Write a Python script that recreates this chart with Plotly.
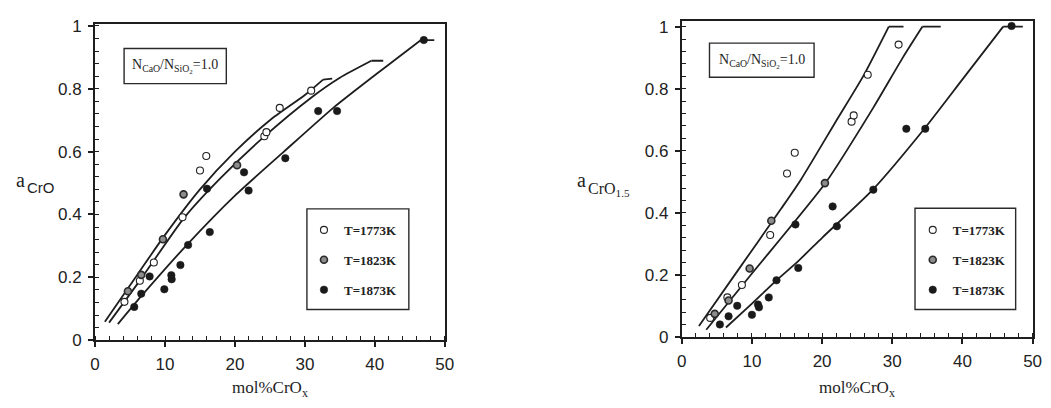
import plotly.graph_objects as go

W, H = 1051, 408

# ---------------- Left panel: a_CrO ----------------
# experimental points
L_x1773 = [4.2, 6.4, 8.4, 12.5, 15.0, 15.9, 24.2, 24.5, 26.4, 30.9]
L_y1773 = [0.122, 0.189, 0.247, 0.391, 0.540, 0.586, 0.649, 0.662, 0.739, 0.794]
L_x1823 = [4.7, 6.6, 9.7, 12.65, 20.3]
L_y1823 = [0.156, 0.208, 0.321, 0.464, 0.557]
L_x1873 = [5.6, 6.6, 7.8, 9.9, 10.9, 10.95, 12.2, 13.3, 16.0, 16.4, 21.3, 21.95, 27.2, 31.9, 34.6, 47.0]
L_y1873 = [0.106, 0.148, 0.203, 0.162, 0.207, 0.194, 0.239, 0.303, 0.482, 0.344, 0.534, 0.476, 0.579, 0.729, 0.729, 0.955]
# model curves (last point = end of the flat plateau after the kink)
L_cx1773 = [1.4, 5.0, 10.0, 15.0, 20.0, 25.0, 30.0, 32.6, 33.9]
L_cy1773 = [0.059, 0.175, 0.335, 0.480, 0.600, 0.700, 0.780, 0.829, 0.832]
L_cx1823 = [2.0, 6.6, 12.75, 17.9, 24.3, 30.8, 35.0, 39.5, 41.2]
L_cy1823 = [0.056, 0.196, 0.390, 0.515, 0.650, 0.770, 0.835, 0.889, 0.889]
L_cx1873 = [3.25, 6.6, 13.2, 20.0, 27.0, 34.1, 40.7, 46.6, 48.5]
L_cy1873 = [0.051, 0.140, 0.305, 0.460, 0.600, 0.740, 0.855, 0.955, 0.955]

# ---------------- Right panel: a_CrO1.5 ----------------
R_x1773 = [4.05, 6.5, 8.57, 12.6, 15.0, 16.1, 24.2, 24.5, 26.5, 30.9]
R_y1773 = [0.062, 0.128, 0.168, 0.329, 0.527, 0.594, 0.694, 0.714, 0.845, 0.942]
R_x1823 = [4.7, 6.67, 9.67, 12.76, 20.4]
R_y1823 = [0.075, 0.118, 0.221, 0.375, 0.496]
R_x1873 = [5.43, 6.67, 7.9, 10.0, 10.86, 11.0, 12.4, 13.5, 16.2, 16.6, 21.5, 22.1, 27.3, 32.0, 34.7, 47.0]
R_y1873 = [0.041, 0.067, 0.101, 0.072, 0.105, 0.096, 0.128, 0.183, 0.363, 0.223, 0.421, 0.357, 0.475, 0.671, 0.671, 1.002]
R_cx1773 = [2.45, 8.0, 14.2, 17.0, 22.0, 25.9, 29.5, 31.6]
R_cy1773 = [0.036, 0.215, 0.415, 0.508, 0.696, 0.842, 1.0, 1.0]
R_cx1823 = [3.49, 10.0, 20.5, 27.3, 31.5, 34.3, 36.9]
R_cy1823 = [0.024, 0.205, 0.497, 0.739, 0.900, 1.0, 1.0]
R_cx1873 = [6.3, 10.0, 13.5, 16.6, 20.0, 27.3, 34.6, 40.0, 45.8, 48.6]
R_cy1873 = [0.031, 0.108, 0.183, 0.245, 0.320, 0.477, 0.672, 0.830, 1.0, 1.0]

series_names = ["T=1773K", "T=1823K", "T=1873K"]
x_ticks = [0, 10, 20, 30, 40, 50]

INK = "#1e1e1e"
LINE_W = 1.8

def px(p):
    return p / W

def py(p):
    return 1 - p / H

marker_styles = [
    dict(size=7, color="white", line=dict(color="#222", width=1.1)),
    dict(size=7, color="#8c8c8c", line=dict(color="#2a2a2a", width=1.6)),
    dict(size=7.5, color="#1a1a1a", line=dict(color="#1a1a1a", width=0.5)),
]

fig = go.Figure()

panels = [
    ("x", "y", "legend", "L",
     [(L_cx1773, L_cy1773), (L_cx1823, L_cy1823), (L_cx1873, L_cy1873)],
     [(L_x1773, L_y1773), (L_x1823, L_y1823), (L_x1873, L_y1873)]),
    ("x2", "y2", "legend2", "R",
     [(R_cx1773, R_cy1773), (R_cx1823, R_cy1823), (R_cx1873, R_cy1873)],
     [(R_x1773, R_y1773), (R_x1823, R_y1823), (R_x1873, R_y1873)]),
]

for xa, ya, leg, tag, curves, points in panels:
    for cx, cy in curves:
        k = len(cx) - 2  # index of the kink
        # smooth rising part
        fig.add_trace(go.Scatter(x=cx[:k + 1], y=cy[:k + 1], mode="lines", xaxis=xa, yaxis=ya,
                                 line=dict(color=INK, width=LINE_W, shape="spline", smoothing=0.6),
                                 showlegend=False, hoverinfo="skip"))
        # flat plateau after the kink
        fig.add_trace(go.Scatter(x=cx[k:], y=cy[k:], mode="lines", xaxis=xa, yaxis=ya,
                                 line=dict(color=INK, width=LINE_W),
                                 showlegend=False, hoverinfo="skip"))
    for i, (sx, sy) in enumerate(points):
        fig.add_trace(go.Scatter(x=sx, y=sy, mode="markers", xaxis=xa, yaxis=ya,
                                 marker=marker_styles[i], name=series_names[i],
                                 legend=leg, legendgroup=tag + series_names[i],
                                 showlegend=True))

def axis_x(domain, anchor):
    return dict(domain=domain, anchor=anchor, range=[0, 50], tickvals=x_ticks,
                showgrid=False, zeroline=False, showline=True, linecolor=INK, linewidth=2,
                mirror=True, ticks="outside", ticklen=5, tickwidth=1.5, tickcolor=INK,
                minor=dict(ticks="inside", ticklen=4, tickwidth=1, tickcolor=INK, dtick=2),
                tickfont=dict(family="Liberation Sans", size=17, color="#222"),
                ticklabelstandoff=2)

def axis_y(domain, anchor, top):
    return dict(domain=domain, anchor=anchor, range=[0, top], dtick=0.2, tick0=0,
                showgrid=False, zeroline=False, showline=True, linecolor=INK, linewidth=2,
                mirror=True, ticks="outside", ticklen=5, tickwidth=1.5, tickcolor=INK,
                minor=dict(ticks="inside", ticklen=4, tickwidth=1, tickcolor=INK, dtick=0.04),
                tickfont=dict(family="Liberation Sans", size=17, color="#222"),
                ticklabelstandoff=3)

# pixel geometry of plot frames
L_left, L_right, L_bottom, L_top = 91.3, 445.7, 347.7, 17.4
R_left, R_right, R_bottom, R_top = 685.9, 1041.5, 344.5, 14.3

legend_font = dict(family="Liberation Serif", size=13, color="#222", weight="bold")

fig.update_layout(
    width=W, height=H, margin=dict(l=0, r=0, t=0, b=0),
    paper_bgcolor="white", plot_bgcolor="white",
    xaxis=axis_x([px(L_left), px(L_right)], "y"),
    yaxis=axis_y([py(L_bottom), py(L_top)], "x", 1.007),
    xaxis2=axis_x([px(R_left), px(R_right)], "y2"),
    yaxis2=axis_y([py(R_bottom), py(R_top)], "x2", 1.019),
    legend=dict(x=px(303), y=py(217), xanchor="left", yanchor="top",
                bgcolor="rgba(0,0,0,0)", borderwidth=0, font=legend_font,
                tracegroupgap=10, itemsizing="trace"),
    legend2=dict(x=px(920), y=py(217), xanchor="left", yanchor="top",
                 bgcolor="rgba(0,0,0,0)", borderwidth=0, font=legend_font,
                 tracegroupgap=10, itemsizing="trace"),
    showlegend=True,
)

shapes = []
# legend frames and composition boxes
for (x0, x1, y0, y1) in [(306, 409.3, 210.7, 315.7), (922.3, 1024.3, 210, 315.7),
                         (120.7, 224.3, 43.3, 80), (714, 820, 37.7, 73.3)]:
    shapes.append(dict(type="rect", xref="paper", yref="paper",
                       x0=px(x0), x1=px(x1), y0=py(y1), y1=py(y0),
                       line=dict(color="#2a2a2a", width=1.4), fillcolor="rgba(0,0,0,0)"))
fig.update_layout(shapes=shapes)

serif = "Liberation Serif"
ann = []
def add_text(text, x, y, size, family=serif, xanchor="center", yanchor="middle", color="#1e1e1e"):
    ann.append(dict(text=text, x=px(x), y=py(y), xref="paper", yref="paper",
                    showarrow=False, xanchor=xanchor, yanchor=yanchor,
                    font=dict(family=family, size=size, color=color)))

# x-axis titles
add_text("mol%CrO<sub>x</sub>", 269, 399, 17)
add_text("mol%CrO<sub>x</sub>", 863, 399, 17)
# y-axis titles
add_text("a", 16, 181, 20)
add_text("CrO", 20.5, 188, 15, family="Liberation Sans", xanchor="left")
add_text("a", 584, 180, 20)
add_text("CrO<sub>1.5</sub>", 588.5, 190, 16, xanchor="left")
# composition boxes
box_text = "N<sub>CaO</sub>/N<sub>SiO<sub>2</sub></sub>=1.0"
add_text(box_text, 172.5, 62, 14)
add_text(box_text, 767, 56, 14)
fig.update_layout(annotations=ann)

fig.write_html("out.html")
